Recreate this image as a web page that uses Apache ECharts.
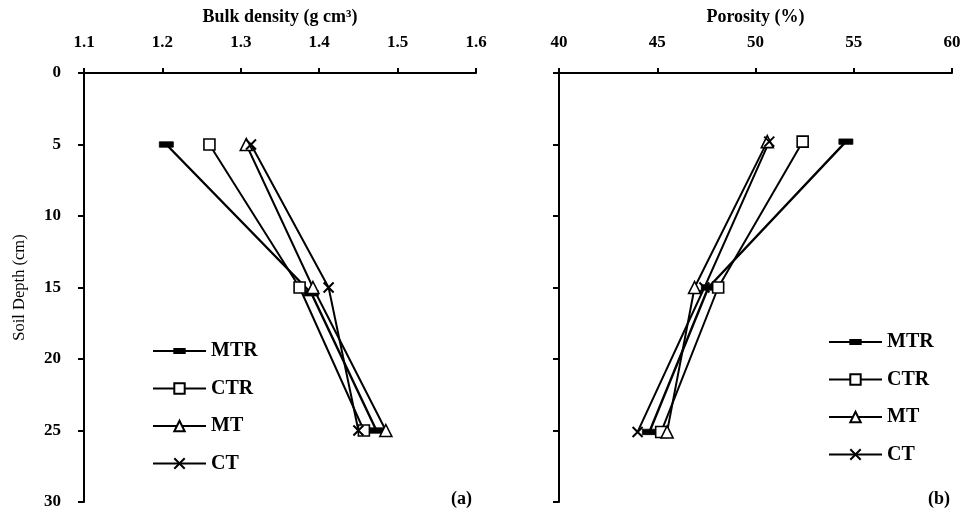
<!DOCTYPE html>
<html><head><meta charset="utf-8">
<script src="https://cdn.jsdelivr.net/npm/echarts@6/dist/echarts.min.js"></script>
<style>html,body{margin:0;padding:0;background:#fff}#c{width:966px;height:514px}</style>
</head><body><div id="c"></div>
<script>
const depths = [5, 15, 25];
const seriesNames = ['MTR', 'CTR', 'MT', 'CT'];
// Bulk density (g cm-3) at each depth
const bdMTR = [1.205, 1.39, 1.473];
const bdCTR = [1.26, 1.375, 1.457];
const bdMT = [1.307, 1.392, 1.485];
const bdCT = [1.313, 1.412, 1.45];
const bdDepthMTR = [5, 15.4, 25];
// Porosity (%) at each depth
const poMTR = [54.6, 47.6, 44.6];
const poCTR = [52.4, 48.1, 45.2];
const poMT = [50.6, 46.9, 45.5];
const poCT = [50.7, 47.4, 44.0];
const poDepth = [4.8, 15, 25.1];

const FONT = 'Liberation Serif';
const txt = {fontFamily: FONT, fontSize: 17, fontWeight: 'bold', color: '#000'};

const styles = {
  MTR: {symbol: 'path://M0,0L0.01,0M14,14L13.99,14M0,4.3H14V9.7H0Z', symbolSize: 14, itemStyle: {color: '#000', borderColor: '#000', borderWidth: 0.8}},
  CTR: {symbol: 'rect', symbolSize: 11, itemStyle: {color: '#fff', borderColor: '#000', borderWidth: 1.6}},
  MT: {symbol: 'triangle', symbolSize: 12, itemStyle: {color: '#fff', borderColor: '#000', borderWidth: 1.6}},
  CT: {symbol: 'path://M0,0L10,10M10,0L0,10', symbolSize: 10, itemStyle: {color: '#000', borderColor: '#000', borderWidth: 2}}
};

function mk(name, xs, ys, idx) {
  return Object.assign({
    name: name, type: 'line', xAxisIndex: idx, yAxisIndex: idx,
    data: xs.map((v, i) => [v, ys[i]]),
    showSymbol: true, animation: false,
    lineStyle: {color: '#000', width: name === 'MTR' ? 2.4 : 2},
    z: 3
  }, JSON.parse(JSON.stringify(styles[name])));
}

const series = [
  mk('MTR', bdMTR, bdDepthMTR, 0),
  mk('CTR', bdCTR, depths, 0),
  mk('MT', bdMT, depths, 0),
  mk('CT', bdCT, depths, 0),
  mk('MTR', poMTR, poDepth, 1),
  mk('CTR', poCTR, poDepth, 1),
  mk('MT', poMT, poDepth, 1),
  mk('CT', poCT, poDepth, 1)
];

function xAx(idx, name, min, max, interval, fmt) {
  return {
    type: 'value', gridIndex: idx, position: 'top', min: min, max: max, interval: interval,
    name: name, nameLocation: 'middle', nameGap: 47,
    nameTextStyle: Object.assign({}, txt, {fontSize: 18}),
    axisLine: {show: true, lineStyle: {color: '#000', width: 2}},
    axisTick: {show: true, inside: false, length: 5, lineStyle: {color: '#000', width: 2}},
    axisLabel: Object.assign({}, txt, {margin: 22, formatter: fmt}),
    splitLine: {show: false}
  };
}
function yAx(idx, showLabels) {
  return {
    type: 'value', gridIndex: idx, inverse: true, min: 0, max: 30, interval: 5,
    name: showLabels ? 'Soil Depth (cm)' : '', nameLocation: 'middle', nameGap: 56,
    nameTextStyle: {fontFamily: FONT, fontSize: 16.5, fontWeight: 'normal', color: '#000'},
    axisLine: {show: true, onZero: false, lineStyle: {color: '#000', width: 2}},
    axisTick: {show: true, length: 6, lineStyle: {color: '#000', width: 2}},
    axisLabel: Object.assign({}, txt, {show: showLabels, margin: 23}),
    splitLine: {show: false}
  };
}

const legendBase = {
  orient: 'vertical', itemWidth: 53, itemHeight: 13, itemGap: 17.5,
  textStyle: Object.assign({}, txt, {fontSize: 20}), data: seriesNames, selectedMode: false
};

const option = {
  backgroundColor: '#fff',
  animation: false,
  grid: [
    {left: 84, top: 73, width: 392, height: 429},
    {left: 559, top: 73, width: 393, height: 429}
  ],
  xAxis: [
    xAx(0, 'Bulk density (g cm\u00B3)', 1.1, 1.6, 0.1, v => Number(v).toFixed(1)),
    xAx(1, 'Porosity (%)', 40, 60, 5, v => String(Math.round(v)))
  ],
  yAxis: [yAx(0, true), yAx(1, false)],
  legend: [
    Object.assign({}, legendBase, {left: 147, top: 336}),
    Object.assign({}, legendBase, {left: 823, top: 327})
  ],
  graphic: [
    {type: 'text', left: 451, top: 490, style: {text: '(a)', font: 'bold 18px "Liberation Serif"', fill: '#000'}},
    {type: 'text', left: 928, top: 490, style: {text: '(b)', font: 'bold 18px "Liberation Serif"', fill: '#000'}}
  ],
  series: series
};

const chart = echarts.init(document.getElementById('c'), null, {renderer: 'canvas'});
chart.setOption(option);
</script>
</body></html>
